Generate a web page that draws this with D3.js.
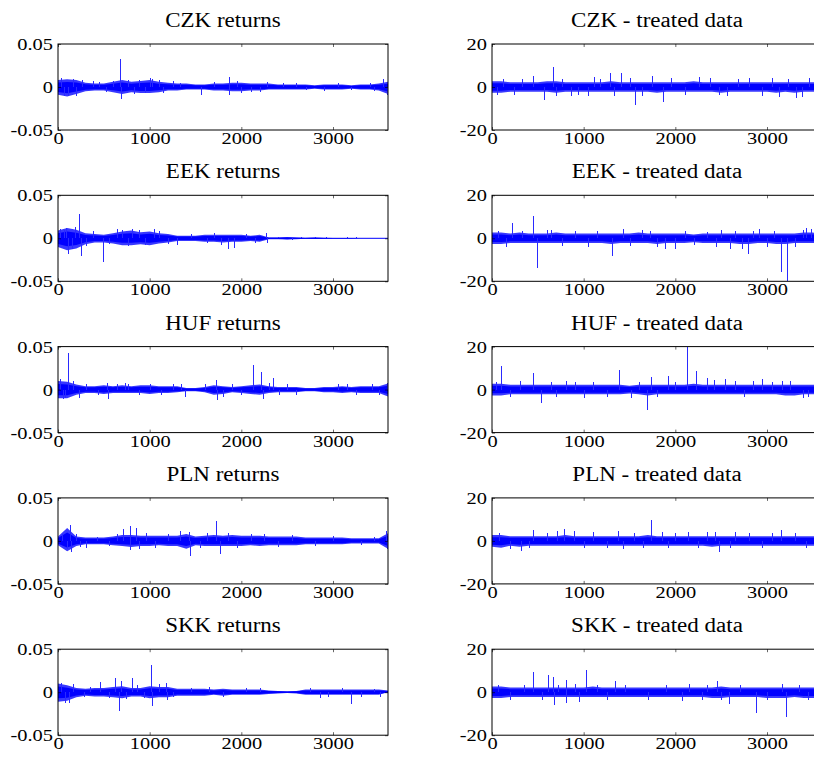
<!DOCTYPE html>
<html><head><meta charset="utf-8">
<script src="https://cdn.jsdelivr.net/npm/d3@7"></script>
<style>
html,body{margin:0;padding:0;background:#fff;}
svg{display:block;}
text{font-family:"Liberation Serif","Times New Roman",serif;fill:#000;}
</style></head><body>
<svg id="chart" width="814" height="759"></svg>
<script>
// ---------- data (core envelope sampled every 100 observations, x = 0..3600; spikes = [obs, value]) ----------
const xTicks = [0, 1000, 2000, 3000];
const xTickLabels = ["0", "1000", "2000", "3000"];
const retTicks = [-0.05, 0, 0.05];
const retTickLabels = ["-0.05", "0", "0.05"];
const trTicks = [-20, 0, 20];
const trTickLabels = ["-20", "0", "20"];

const czkRetHi = [0.008,0.009,0.008,0.005,0.004,0.004,0.006,0.008,0.006,0.007,0.008,0.006,0.005,0.004,0.004,0.003,0.003,0.004,0.004,0.005,0.005,0.004,0.004,0.004,0.003,0.003,0.003,0.003,0.002,0.003,0.003,0.003,0.002,0.003,0.003,0.004,0.006];
const czkRetLo = [-0.009,-0.011,-0.008,-0.005,-0.004,-0.004,-0.006,-0.008,-0.006,-0.007,-0.007,-0.006,-0.004,-0.004,-0.003,-0.003,-0.003,-0.004,-0.004,-0.005,-0.005,-0.004,-0.004,-0.003,-0.003,-0.003,-0.003,-0.003,-0.002,-0.003,-0.003,-0.003,-0.002,-0.003,-0.003,-0.004,-0.008];
const czkRetSpikes = [[673,0.032],[690,-0.0135],[110,-0.011],[380,0.007],[950,-0.007],[1030,0.009],[1100,0.008],[1250,0.007],[1560,-0.009],[1860,0.012],[1870,-0.009],[2100,-0.006],[2280,0.006],[2600,0.005],[2900,-0.005],[3550,0.009],[3590,-0.009],
  [30,0.01],[70,-0.01],[160,0.009],[200,-0.01],[260,0.008],[450,0.006],[520,-0.006],[600,0.007],[760,0.008],[830,-0.008],[880,0.008],[1000,0.01],[1150,-0.007],[1330,0.005],[1700,0.006],[1950,0.007],[2000,-0.007],[2200,-0.006],[2450,0.005],[2700,-0.004],[3050,0.005],[3200,-0.004],[3400,0.005],[3450,-0.005]];

const czkTrHi = [2.7,2.7,2.2,2.2,2.2,2.2,2.7,2.7,2.2,2.2,2.2,2.2,2.2,2.7,2.2,2.2,2.2,2.2,2.2,2.2,2.2,2.2,2.7,2.2,2.2,2.2,2.2,2.2,2.2,2.2,2.2,2.2,2.2,2.2,2.2,2.2,2.2];
const czkTrLo = [-2.7,-2.7,-2.2,-2.2,-2.2,-2.2,-2.2,-2.7,-2.2,-2.2,-2.2,-2.2,-2.2,-2.2,-2.2,-2.2,-2.2,-2.2,-2.7,-2.2,-2.2,-2.2,-2.2,-2.2,-2.2,-2.7,-2.2,-2.2,-2.2,-2.2,-2.2,-2.7,-2.2,-2.7,-2.2,-2.2,-2.2];
const czkTrSpikes = [[55,-3.5],[238,-3.5],[450,5],[568,-6],[670,9.3],[860,-4],[1044,-4],[1117,4.5],[1282,6.5],[1410,6.5],[1557,-8.5],[1747,5],[1860,-7],[2253,4.5],[2564,-4],[2800,4],[3132,-4.5],[3315,-5],[3460,4],
  [120,3.5],[330,3.5],[700,-4],[760,3.5],[940,-3.5],[1180,3.5],[1330,-4],[1500,4],[1640,-4],[1950,4],[2100,-3.5],[2380,4],[2480,-3.5],[2680,3.5],[2950,-4],[3050,4],[3230,3.5],[3380,-4.5]];

const eekRetHi = [0.009,0.012,0.01,0.006,0.005,0.004,0.006,0.008,0.009,0.007,0.008,0.006,0.005,0.003,0.003,0.003,0.004,0.004,0.004,0.004,0.004,0.003,0.004,0.001,0.001,0.0015,0.001,0.0005,0.0008,0.0005,0.0003,0.0003,0.0003,0,0,0,0];
const eekRetLo = [-0.01,-0.014,-0.012,-0.007,-0.005,-0.005,-0.006,-0.008,-0.008,-0.007,-0.008,-0.006,-0.005,-0.003,-0.003,-0.003,-0.004,-0.004,-0.005,-0.004,-0.004,-0.003,-0.004,-0.001,-0.001,-0.0015,-0.001,-0.0005,-0.0008,-0.0005,-0.0003,-0.0003,-0.0003,0,0,0,0];
const eekRetSpikes = [[60,0.01],[110,-0.018],[180,0.013],[225,0.028],[255,-0.02],[490,-0.028],[640,0.011],[810,0.011],[1050,0.011],[1300,-0.008],[1620,-0.006],[1850,-0.012],[1925,-0.011],[2270,0.006],[2275,-0.005],[2800,0.0015],[2920,0.002],[3150,0.0015],[3250,0.0015],
  [20,0.011],[90,0.012],[150,-0.013],[300,-0.009],[380,0.008],[560,-0.007],[700,0.01],[760,-0.009],[880,0.01],[950,-0.008],[1100,0.009],[1200,-0.007],[1450,0.005],[1700,0.006],[1780,-0.008],[2050,0.005],[2150,-0.006],[2400,0.002],[2550,-0.002],[2650,0.002]];

const eekTrHi = [2.7,2.7,2.2,2.7,2.2,2.2,2.2,2.7,2.2,2.2,2.2,2.2,2.2,2.2,2.2,2.2,2.7,2.2,2.2,2.2,2.2,2.2,1.8,2.2,2.2,2.2,2.2,2.2,2.2,2.2,2.2,2.2,2.2,2.2,2.7,2.7,2.2];
const eekTrLo = [-2.7,-2.7,-2.2,-2.2,-2.2,-2.2,-2.2,-2.2,-2.2,-2.2,-2.2,-2.2,-2.2,-2.7,-2.2,-2.2,-2.2,-2.2,-2.7,-2.2,-2.2,-2.2,-1.8,-2.2,-2.2,-2.2,-2.2,-2.7,-2.7,-2.2,-2.2,-2.7,-2.7,-2.2,-2.2,-2.2,-2.2];
const eekTrSpikes = [[220,7],[447,10.5],[487,-13.7],[597,4],[1311,-8],[1428,4.5],[1640,4],[1886,-5],[1996,-5],[2440,-4],[2600,-5],[2729,-5],[2795,-7.5],[2912,4.5],[3154,-15.5],[3223,-20],[3390,4],[3425,5],
  [60,3.5],[150,-4],[330,3.5],[640,4],[760,-3.5],[900,3.5],[1050,-4],[1150,3.5],[1500,-3.5],[1720,3.5],[1800,-4],[2100,3.5],[2200,-3],[2350,3],[2500,4],[2650,3.5],[2850,3.5],[3000,-4],[3080,3.5],[3300,-4],[3480,4.5]];

const hufRetHi = [0.01,0.009,0.006,0.004,0.004,0.005,0.004,0.005,0.004,0.005,0.005,0.004,0.004,0.004,0.002,0.002,0.003,0.005,0.004,0.003,0.004,0.005,0.006,0.004,0.003,0.003,0.003,0.002,0.002,0.003,0.003,0.004,0.003,0.004,0.004,0.004,0.007];
const hufRetLo = [-0.01,-0.01,-0.006,-0.004,-0.004,-0.005,-0.004,-0.004,-0.004,-0.004,-0.005,-0.004,-0.004,-0.003,-0.002,-0.002,-0.003,-0.006,-0.005,-0.003,-0.004,-0.005,-0.006,-0.004,-0.003,-0.003,-0.003,-0.002,-0.002,-0.003,-0.003,-0.004,-0.003,-0.004,-0.004,-0.004,-0.008];
const hufRetSpikes = [[55,-0.011],[110,0.042],[225,-0.01],[538,0.008],[540,-0.011],[727,0.008],[1345,0.007],[1727,0.011],[1730,-0.012],[1800,-0.009],[2127,0.029],[2218,0.02],[2236,-0.011],[2345,0.013],[2411,-0.006],[3050,0.006],[3590,0.008],
  [20,0.012],[80,-0.01],[160,0.01],[300,0.006],[440,-0.006],[640,0.006],[760,0.007],[880,-0.006],[1000,0.007],[1120,-0.006],[1250,0.007],[1390,-0.009],[1600,0.006],[1900,0.006],[2000,-0.006],[2300,0.008],[2500,0.006],[2600,-0.006],[3150,0.006],[3250,-0.006],[3420,0.007],[3500,-0.006]];

const hufTrHi = [2.7,2.7,2.2,2.2,2.2,2.2,2.2,2.2,2.2,2.2,2.2,2.2,2.2,2.2,2.2,1.8,2.2,2.2,2.2,2.2,2.2,2.2,2.7,2.2,2.2,2.2,2.2,2.2,2.2,2.2,2.2,2.2,2.2,2.2,2.2,2.2,2.2];
const hufTrLo = [-2.7,-2.7,-2.2,-2.2,-2.2,-2.2,-2.2,-2.2,-2.2,-2.2,-2.2,-2.2,-2.2,-2.2,-2.2,-1.8,-2.2,-2.7,-2.2,-2.2,-2.2,-2.2,-2.2,-2.2,-2.2,-2.2,-2.2,-2.2,-2.2,-2.2,-2.2,-2.2,-2.7,-2.7,-2.2,-2.2,-2.2];
const hufTrSpikes = [[99,11],[451,7.5],[531,-6],[806,4],[1007,-4],[1381,9],[1520,-4],[1696,-9.5],[1733,6],[1923,6.5],[2132,20],[2223,8.5],[2344,5.5],[2546,5],[2949,5],[3168,4],[3388,-4],
  [40,3.5],[200,-3.5],[300,4],[640,3.5],[700,-3.5],[900,3.5],[1100,3.5],[1250,-3.5],[1600,3.5],[1800,-3.5],[2000,3.5],[2420,4.5],[2650,4],[2750,-3.5],[2850,4],[3050,3.5],[3250,4],[3450,-3.5]];

const plnRetHi = [0.005,0.015,0.005,0.004,0.004,0.004,0.005,0.007,0.007,0.006,0.006,0.006,0.006,0.006,0.008,0.005,0.006,0.007,0.006,0.007,0.006,0.006,0.006,0.005,0.005,0.005,0.005,0.004,0.004,0.004,0.004,0.004,0.003,0.003,0.003,0.003,0.009];
const plnRetLo = [-0.005,-0.012,-0.006,-0.004,-0.004,-0.004,-0.005,-0.006,-0.007,-0.006,-0.006,-0.005,-0.006,-0.006,-0.009,-0.005,-0.006,-0.006,-0.006,-0.006,-0.006,-0.005,-0.006,-0.005,-0.005,-0.005,-0.005,-0.004,-0.004,-0.004,-0.004,-0.004,-0.003,-0.003,-0.003,-0.003,-0.009];
const plnRetSpikes = [[135,0.018],[140,-0.013],[310,-0.008],[709,0.014],[782,0.017],[790,-0.011],[855,0.015],[1327,0.011],[1425,0.01],[1436,-0.017],[1727,0.023],[1764,-0.015],[2109,0.008],[3582,0.011],[3590,-0.01],
  [40,0.008],[100,-0.01],[200,0.008],[240,-0.007],[420,0.005],[560,-0.006],[640,0.008],[880,-0.009],[960,0.009],[1060,-0.008],[1200,0.008],[1550,-0.008],[1620,0.009],[1850,0.009],[1950,-0.008],[2250,0.008],[2400,-0.007],[2550,0.007],[2800,-0.006],[3000,0.006],[3300,-0.005],[3450,0.005]];

const plnTrHi = [2.7,2.7,2.2,2.2,2.2,2.2,2.2,2.2,2.7,2.2,2.2,2.2,2.2,2.2,2.2,2.2,2.2,2.7,2.2,2.2,2.2,2.2,2.2,2.2,2.2,2.2,2.2,2.2,2.2,2.2,2.2,2.2,2.2,2.2,2.2,2.2,2.2];
const plnTrLo = [-2.7,-3.2,-2.2,-2.7,-2.2,-2.2,-2.2,-2.2,-2.2,-2.2,-2.2,-2.2,-2.2,-2.2,-2.2,-2.2,-2.2,-2.2,-2.2,-2.2,-2.2,-2.2,-2.2,-2.2,-2.7,-2.2,-2.2,-2.2,-2.2,-2.2,-2.2,-2.2,-2.2,-2.2,-2.2,-2.2,-2.2];
const plnTrSpikes = [[201,-4],[311,-4.5],[451,5],[714,4.5],[780,5.5],[897,4.5],[1373,4.5],[1428,-4],[1733,9.7],[1923,-3.5],[2143,4],[2436,4],[2473,-5],[2656,4],[3150,5],
  [80,3.5],[400,-3.5],[600,3.5],[1000,-3.5],[1100,4],[1250,-3.5],[1550,3.5],[1650,-3.5],[1850,4],[2000,3.5],[2250,-3.5],[2350,4],[2600,-3.5],[2800,3.5],[2950,-3.5],[3050,3.5],[3300,3.5],[3420,-3.5]];

const skkRetHi = [0.01,0.008,0.005,0.004,0.005,0.005,0.006,0.007,0.005,0.005,0.007,0.006,0.006,0.004,0.004,0.004,0.004,0.003,0.004,0.003,0.003,0.003,0.003,0.002,0.0015,0.001,0.0015,0.003,0.003,0.003,0.003,0.003,0.003,0.003,0.003,0.003,0.002];
const skkRetLo = [-0.011,-0.01,-0.006,-0.004,-0.005,-0.005,-0.006,-0.007,-0.005,-0.005,-0.007,-0.006,-0.006,-0.004,-0.004,-0.004,-0.004,-0.003,-0.004,-0.003,-0.003,-0.003,-0.003,-0.002,-0.0015,-0.001,-0.0015,-0.003,-0.003,-0.003,-0.003,-0.003,-0.003,-0.003,-0.003,-0.003,0];
const skkRetSpikes = [[120,-0.012],[455,0.012],[618,0.016],[665,-0.022],[691,0.013],[807,0.016],[1018,0.032],[1029,-0.016],[1182,0.011],[1190,-0.009],[2855,-0.007],[3193,-0.014],[3509,-0.006],
  [30,0.011],[80,-0.012],[160,0.009],[280,-0.006],[350,0.006],[560,-0.007],[740,-0.008],[860,0.008],[940,-0.007],[1100,0.009],[1250,-0.006],[1450,0.005],[1650,0.006],[1800,-0.005],[2050,0.005],[2200,0.005],[2750,0.005],[2950,-0.005],[3100,0.005],[3300,-0.005],[3450,0.004]];

const skkTrHi = [2.7,2.7,2.2,2.2,2.2,2.2,2.2,2.2,2.2,2.2,2.2,2.7,2.2,2.2,2.2,2.2,2.2,2.2,2.2,2.2,2.2,2.2,2.2,2.2,2.2,2.7,2.2,2.2,2.2,2.2,2.2,2.2,2.2,2.2,2.2,2.2,2.2];
const skkTrLo = [-2.7,-2.7,-2.2,-2.2,-2.2,-2.2,-2.2,-2.2,-2.2,-2.2,-2.2,-2.2,-2.2,-2.2,-2.2,-2.2,-2.2,-2.2,-2.2,-2.2,-2.2,-2.2,-2.2,-2.2,-2.7,-2.7,-2.2,-2.2,-2.2,-2.2,-2.7,-2.7,-2.7,-2.2,-2.7,-2.7,-2.7];
const skkTrSpikes = [[451,9.4],[615,8],[670,7],[675,-5.8],[806,5.5],[810,-5],[952,-4.5],[1025,10.5],[1337,5],[2070,-4],[2289,-3.5],[2454,5],[2582,-5.5],[2875,-9.5],[3168,4],[3205,-11.5],[3516,-6.5],
  [60,3.5],[200,-3.5],[350,3.5],[540,-3.5],[720,3.5],[900,4],[1150,3.5],[1250,-3.5],[1450,3.5],[1700,-3.5],[1900,3.5],[2150,4],[2350,3.5],[2500,-3.5],[2700,3.5],[3000,-3.5],[3350,3.5],[3450,-3.5]];

const panels = [
  {title:"CZK returns", col:0, row:0, hi:czkRetHi, lo:czkRetLo, spikes:czkRetSpikes, kind:"ret"},
  {title:"CZK - treated data", col:1, row:0, hi:czkTrHi, lo:czkTrLo, spikes:czkTrSpikes, kind:"tr"},
  {title:"EEK returns", col:0, row:1, hi:eekRetHi, lo:eekRetLo, spikes:eekRetSpikes, kind:"ret"},
  {title:"EEK - treated data", col:1, row:1, hi:eekTrHi, lo:eekTrLo, spikes:eekTrSpikes, kind:"tr"},
  {title:"HUF returns", col:0, row:2, hi:hufRetHi, lo:hufRetLo, spikes:hufRetSpikes, kind:"ret"},
  {title:"HUF - treated data", col:1, row:2, hi:hufTrHi, lo:hufTrLo, spikes:hufTrSpikes, kind:"tr"},
  {title:"PLN returns", col:0, row:3, hi:plnRetHi, lo:plnRetLo, spikes:plnRetSpikes, kind:"ret"},
  {title:"PLN - treated data", col:1, row:3, hi:plnTrHi, lo:plnTrLo, spikes:plnTrSpikes, kind:"tr"},
  {title:"SKK returns", col:0, row:4, hi:skkRetHi, lo:skkRetLo, spikes:skkRetSpikes, kind:"ret"},
  {title:"SKK - treated data", col:1, row:4, hi:skkTrHi, lo:skkTrLo, spikes:skkTrSpikes, kind:"tr"}
];

// ---------- layout ----------
const colLeft = [58, 492];
const plotW = 330, plotH = 86;
const rowTop = i => 44 + i * 151.3;
const blue = "#0000ff";
const svg = d3.select("#chart");

panels.forEach(p => {
  const g = svg.append("g").attr("transform", `translate(${colLeft[p.col]},${rowTop(p.row)})`);
  const x = d3.scaleLinear().domain([0, 3600]).range([0, plotW]);
  const yDom = p.kind === "ret" ? [-0.05, 0.05] : [-20, 20];
  const y = d3.scaleLinear().domain(yDom).range([plotH, 0]);
  const yT = p.kind === "ret" ? retTicks : trTicks;
  const yL = p.kind === "ret" ? retTickLabels : trTickLabels;

  const clipId = "clip" + p.col + p.row;
  g.append("clipPath").attr("id", clipId).append("rect").attr("width", plotW).attr("height", plotH);
  const plot = g.append("g").attr("clip-path", `url(#${clipId})`);

  const band = p.hi.map((h, i) => ({x: i * 100, hi: h, lo: p.lo[i]}));
  // outer fringe + solid dense core
  plot.append("path").datum(band)
    .attr("fill", blue).attr("fill-opacity", 0.78)
    .attr("d", d3.area().x(d => x(d.x)).y0(d => y(d.lo)).y1(d => y(d.hi)));
  plot.append("path").datum(band)
    .attr("fill", blue)
    .attr("d", d3.area().x(d => x(d.x)).y0(d => y(d.lo * 0.65)).y1(d => y(d.hi * 0.65)));
  plot.append("line").attr("x1", 0).attr("x2", plotW).attr("y1", y(0)).attr("y2", y(0))
    .attr("stroke", blue).attr("stroke-width", 1);
  plot.selectAll("line.spike").data(p.spikes).join("line").attr("class", "spike")
    .attr("x1", d => Math.round(x(d[0])) + 0.5).attr("x2", d => Math.round(x(d[0])) + 0.5)
    .attr("y1", y(0)).attr("y2", d => y(d[1]))
    .attr("stroke", "#2a2aff").attr("stroke-width", 1)
    .attr("shape-rendering", "crispEdges");

  // box
  g.append("rect").attr("width", plotW).attr("height", plotH)
    .attr("fill", "none").attr("stroke", "#000").attr("stroke-width", 1);

  // axes (MATLAB style inward ticks on all four sides)
  const ax = [
    d3.axisBottom(x).tickValues(xTicks).tickFormat((d, i) => xTickLabels[i]).tickSizeInner(-3).tickSizeOuter(0).tickPadding(2),
    d3.axisTop(x).tickValues(xTicks).tickFormat("").tickSizeInner(-3).tickSizeOuter(0),
    d3.axisLeft(y).tickValues(yT).tickFormat((d, i) => yL[i]).tickSizeInner(-3).tickSizeOuter(0).tickPadding(5),
    d3.axisRight(y).tickValues(yT).tickFormat("").tickSizeInner(-3).tickSizeOuter(0)
  ];
  const pos = [`translate(0,${plotH})`, "translate(0,0)", "translate(0,0)", `translate(${plotW},0)`];
  ax.forEach((a, i) => {
    const ag = g.append("g").attr("transform", pos[i]).call(a);
    ag.select(".domain").remove();
    ag.selectAll(".tick line").attr("stroke", "#000").attr("stroke-width", 0.6);
    ag.selectAll("text").attr("font-size", 17).attr("fill", "#000");
  });

  g.append("text").attr("class", "title")
    .attr("x", plotW / 2).attr("y", -17)
    .attr("text-anchor", "middle").attr("font-size", 20)
    .text(p.title);
});

// horizontal stretch of glyphs to match the reference typeface proportions
svg.selectAll("text").each(function() {
  const t = d3.select(this);
  if (!t.text()) return;
  const w = this.getComputedTextLength();
  const k = t.classed("title") ? 1.15 : 1.2;
  t.attr("textLength", w * k).attr("lengthAdjust", "spacingAndGlyphs");
});
</script>
</body></html>
